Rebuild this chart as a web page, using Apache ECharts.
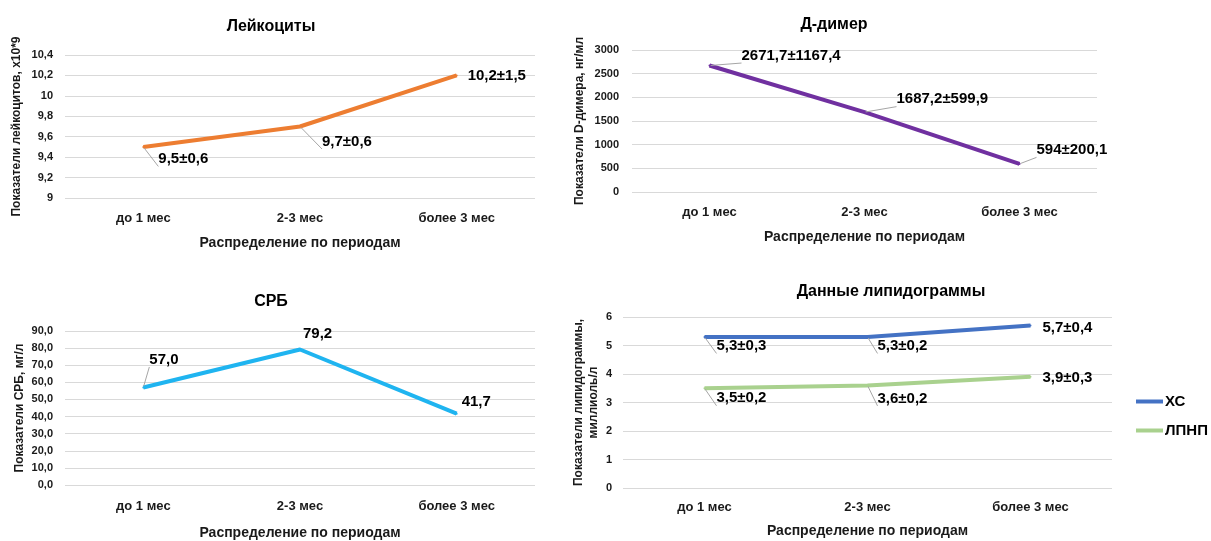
<!DOCTYPE html>
<html>
<head>
<meta charset="utf-8">
<script src="https://cdn.jsdelivr.net/npm/echarts@6/dist/echarts.min.js"></script>
<style>
html,body{margin:0;padding:0;background:#fff;}
#c{width:1211px;height:541px;}
</style>
</head>
<body>
<div id="c"></div>
<script>
// ---- data ----
var categories = ['до 1 мес', '2-3 мес', 'более 3 мес'];

var leukoMean = [9.5, 9.7, 10.2];
var leukoSd = [0.6, 0.6, 1.5];

var ddimerMean = [2671.7, 1687.2, 594];
var ddimerSd = [1167.4, 599.9, 200.1];

var crpMean = [57.0, 79.2, 41.7];

var cholMean = [5.3, 5.3, 5.7];
var cholSd = [0.3, 0.2, 0.4];
var ldlMean = [3.5, 3.6, 3.9];
var ldlSd = [0.2, 0.2, 0.3];

var leukoTicks = ['9', '9,2', '9,4', '9,6', '9,8', '10', '10,2', '10,4'];
var ddimerTicks = ['0', '500', '1000', '1500', '2000', '2500', '3000'];
var crpTicks = ['0,0', '10,0', '20,0', '30,0', '40,0', '50,0', '60,0', '70,0', '80,0', '90,0'];
var lipidTicks = ['0', '1', '2', '3', '4', '5', '6'];

// ---- layout (label offsets / leader flags, not data) ----
var leukoOffsets = [[9, 12], [16, 15], [5, 0]];
var leukoLeaders = [true, true, false];
var ddimerOffsets = [[26, -10], [26, -13], [11, -14]];
var ddimerLeaders = [true, true, true];
var crpOffsets = [[0, -28], [-3, -16], [-1, -12]];
var crpLeaders = [true, false, false];
var cholOffsets = [[6, 9], [4, 9], [6, 2]];
var cholLeaders = [true, true, false];
var ldlOffsets = [[6, 10], [4, 13], [6, 1]];
var ldlLeaders = [true, true, false];

var FONT = "'Liberation Sans', Arial, sans-serif";
var TXT = '#1a1a1a';

function comma(v) { return String(v).replace('.', ','); }

function withSd(means, sds, offsets, leaders) {
  return means.map(function (m, i) {
    return {
      value: m,
      label: { offset: offsets[i], formatter: comma(m) + '±' + comma(sds[i]) },
      labelLine: { show: leaders[i] }
    };
  });
}
function plain(means, offsets, leaders, fmt) {
  return means.map(function (m, i) {
    return {
      value: m,
      label: { offset: offsets[i], formatter: fmt(m) },
      labelLine: { show: leaders[i] }
    };
  });
}

function tickFmt(ticks, min, step) {
  return function (v) {
    var idx = Math.round((v - min) / step);
    return ticks[idx] !== undefined ? ticks[idx] : comma(v);
  };
}

function xAxis(gi, margin, gap) {
  return {
    type: 'category', gridIndex: gi, data: categories, boundaryGap: true,
    axisLine: { show: false }, axisTick: { show: false }, splitLine: { show: false },
    axisLabel: { color: TXT, fontWeight: 'bold', fontSize: 13, fontFamily: FONT, margin: margin },
    name: 'Распределение по периодам', nameLocation: 'middle', nameGap: gap,
    nameTextStyle: { color: TXT, fontWeight: 'bold', fontSize: 14, fontFamily: FONT }
  };
}
function yAxis(gi, min, max, step, ticks, name, gap, margin) {
  return {
    type: 'value', gridIndex: gi, min: min, max: max, interval: step,
    axisLine: { show: false }, axisTick: { show: false },
    splitLine: { show: true, lineStyle: { color: '#D9D9D9', width: 1 } },
    axisLabel: { color: TXT, fontWeight: 'bold', fontSize: 11, fontFamily: FONT, margin: margin,
      formatter: tickFmt(ticks, min, step) },
    name: name, nameLocation: 'middle', nameGap: gap, nameRotate: 90,
    nameTextStyle: { color: TXT, fontWeight: 'bold', fontSize: 12, fontFamily: FONT, lineHeight: 15 }
  };
}
function lineSeries(name, gi, color, data) {
  return {
    name: name, type: 'line', xAxisIndex: gi, yAxisIndex: gi,
    data: data, symbol: 'circle', symbolSize: 2, showSymbol: true,
    itemStyle: { color: color },
    lineStyle: { color: color, width: 4 },
    label: { show: true, position: 'right', distance: 5, color: '#000',
      fontWeight: 'bold', fontSize: 15, fontFamily: FONT },
    labelLine: { show: true, lineStyle: { color: '#A6A6A6', width: 1 } },
    emphasis: { disabled: true },
    animation: false
  };
}

var titleStyle = { color: '#000', fontWeight: 'bold', fontSize: 16, fontFamily: FONT };

var option = {
  backgroundColor: '#fff',
  animation: false,
  title: [
    { text: 'Лейкоциты', left: 271, top: 19, textAlign: 'center', textStyle: titleStyle, padding: 0 },
    { text: 'Д-димер', left: 834, top: 17, textAlign: 'center', textStyle: titleStyle, padding: 0 },
    { text: 'СРБ', left: 271, top: 294, textAlign: 'center', textStyle: titleStyle, padding: 0 },
    { text: 'Данные липидограммы', left: 891, top: 284, textAlign: 'center', textStyle: titleStyle, padding: 0 }
  ],
  legend: {
    data: ['ХС', 'ЛПНП'], orient: 'vertical', left: 1131, top: 389,
    icon: 'rect', itemWidth: 27, itemHeight: 4, itemGap: 14,
    textStyle: { color: '#000', fontWeight: 'bold', fontSize: 15, fontFamily: FONT, padding: [0, 0, 0, -3] }
  },
  grid: [
    { left: 65, top: 55, width: 470, height: 143 },
    { left: 632, top: 50, width: 465, height: 142 },
    { left: 65, top: 331, width: 470, height: 156 },
    { left: 623, top: 317, width: 489, height: 171 }
  ],
  xAxis: [xAxis(0, 14, 38), xAxis(1, 14, 38), xAxis(2, 15, 41), xAxis(3, 13, 36)],
  yAxis: [
    yAxis(0, 9, 10.4, 0.2, leukoTicks, 'Показатели лейкоцитов, х10*9', 41, 12),
    yAxis(1, 0, 3000, 500, ddimerTicks, 'Показатели D-димера, нг/мл', 45, 13),
    yAxis(2, 0, 90, 10, crpTicks, 'Показатели СРБ, мг/л', 38, 12),
    yAxis(3, 0, 6, 1, lipidTicks, 'Показатели липидограммы,\nмиллиоль/л', 22, 11)
  ],
  series: [
    lineSeries('Лейкоциты', 0, '#ED7D31', withSd(leukoMean, leukoSd, leukoOffsets, leukoLeaders)),
    lineSeries('Д-димер', 1, '#7030A0', withSd(ddimerMean, ddimerSd, ddimerOffsets, ddimerLeaders)),
    lineSeries('СРБ', 2, '#1FB4F0', plain(crpMean, crpOffsets, crpLeaders, function (v) { return v.toFixed(1).replace('.', ','); })),
    lineSeries('ХС', 3, '#4472C4', withSd(cholMean, cholSd, cholOffsets, cholLeaders)),
    lineSeries('ЛПНП', 3, '#A9D18E', withSd(ldlMean, ldlSd, ldlOffsets, ldlLeaders))
  ]
};

var chart = echarts.init(document.getElementById('c'), null, { renderer: 'canvas' });
chart.setOption(option);
</script>
</body>
</html>
